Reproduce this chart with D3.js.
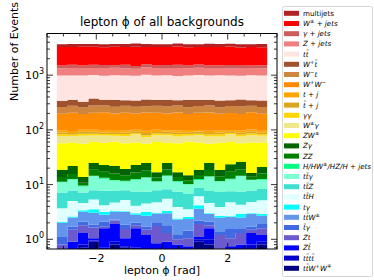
<!DOCTYPE html>
<html>
<head>
<meta charset="utf-8">
<script src="https://cdn.jsdelivr.net/npm/d3@7"></script>
<style>
  body{margin:0;background:#fff}
  svg{display:block;font-family:"DejaVu Sans",sans-serif}
</style>
</head>
<body>
<div id="chart"></div>
<script>
// 20 bins in lepton phi, -3.2 .. 3.2
const binEdges = [-3.2,-2.88,-2.56,-2.24,-1.92,-1.6,-1.28,-0.96,-0.64,-0.32,0,0.32,0.64,0.96,1.28,1.6,1.92,2.24,2.56,2.88,3.2]
const xTicks = [-2, 0, 2]
const yTicks = [1, 10, 100, 1000]

// per-process counts, legend order (top of the stack first)
const multijets  = [420,450,400,430,460,410,440,480,420,400,430,450,420,410,460,430,400,440,420,450]
const wjets      = [1760,1720,1800,1750,1690,1780,1740,1820,1700,1760,1730,1790,1750,1710,1770,1740,1800,1690,1760,1730]
const gammajets  = [170,190,160,200,180,150,210,170,190,160,180,200,170,190,160,180,210,170,150,190]
const zjets      = [350,370,360,340,380,360,350,330,370,360,350,380,340,360,370,350,340,380,360,350]
const ttbar      = [650,630,660,640,620,650,640,630,660,640,650,620,640,660,630,650,640,620,650,640]
const wptbar     = [75,82,70,95,78,88,72,80,90,76,84,70,92,80,74,86,78,90,72,84]
const wmt        = [65,70,60,72,68,64,70,66,62,70,68,72,64,66,70,62,68,72,66,64]
const ww         = [100,110,95,105,115,100,108,98,112,104,100,110,96,106,112,100,104,98,108,102]
const tj         = [8,7,9,8,6,9,8,7,8,9,7,8,9,7,8,8,6,9,8,7]
const tbarj      = [7,6,7,8,6,7,6,7,8,6,7,6,7,8,6,7,6,7,8,6]
const gammagamma = [6,5,7,6,5,6,7,5,6,6,5,7,6,5,6,7,5,6,6,5]
const wgamma     = [20,18,22,19,21,17,20,23,18,20,22,19,17,21,20,18,23,19,21,20]
const zw         = [38.6,37.1,42.2,35.2,35.3,39.1,37.8,36.3,31.2,43.1,33.2,40.1,46.1,40.6,31.2,39.6,36.3,31.1,42.7,37.1]
const zgamma     = [4.6,6.3,3.0,6.0,5.5,6.0,4.5,6.0,6.5,3.3,6.0,3.2,2.8,3.5,6.3,4.2,6.5,6.8,2.4,5.0]
const zz         = [2.5,3.0,1.2,4.2,3.9,3.8,3.0,4.0,4.7,2.0,4.2,2.1,1.8,2.2,4.3,2.6,4.3,4.6,1.6,3.3]
const higgs      = [0.3,0.2,0.4,0.3,0.5,0.2,0.3,0.4,0.2,0.3,0.4,0.3,0.2,0.5,0.3,0.2,0.4,0.3,0.2,0.3]
const ttgamma    = [3.8,4.6,2.0,6.4,5.0,4.2,3.6,4.8,6.0,3.4,6.0,3.9,3.2,3.5,6.3,4.1,4.9,6.7,4.4,4.0]
const ttz        = [3.5,2.8,2.6,2.5,3.6,3.0,2.6,3.4,2.9,3.1,2.7,3.5,3.3,2.6,3.0,3.4,2.8,3.2,2.9,3.1]
const tth        = [1.6,2.4,1.2,1.8,1.0,1.4,2.0,1.1,1.3,1.7,2.2,1.5,1.0,1.9,1.6,1.2,2.1,1.4,1.8,2.3]
const tgamma     = [0.1,0.1,0.2,0.5,0.4,0.1,0.1,0.2,0.5,0.1,0.3,0.1,0.2,0.6,0.1,0.2,0.1,0.4,0.1,0.2]
const ttw        = [0.9,0.8,1.1,1.2,0.7,0.9,1.3,0.8,1.0,0.9,1.2,1.1,0.9,1.4,0.8,1.1,1.0,0.9,1.2,0.8]
const tbargamma  = [0.3,0.2,0.3,0.2,0.4,0.1,0.3,0.2,0.2,0.3,0.5,0.2,0.4,0.3,0.3,0.2,0.5,0.3,0.2,0.3]
const zt         = [0.2,0.6,0.5,0.6,0.1,0.3,0.5,0.2,0.3,0.9,0.4,0.2,0.3,0.8,0.2,0.6,0.3,0.5,0.2,0.4]
const ztbar      = [0.2,0.3,0.5,0.1,0.9,1.0,0.3,0.9,0.8,0.2,0.4,0.3,0.2,0.1,0.6,0.2,0.3,0.2,0.5,0.3]
const tttt       = [0.1,0.2,0.1,0.05,0.2,0.1,0.05,0.3,0.1,0.05,0.2,0.1,0.05,0.1,0.2,0.1,0.05,0.1,0.2,0.1]
const ttww       = [0.3,0.4,0.7,0.9,0.5,0.8,0.7,0.4,0.3,0.6,0.3,0.4,0.5,0.9,0.8,0.3,0.4,0.5,0.6,0.8]

const series = [multijets,wjets,gammajets,zjets,ttbar,wptbar,wmt,ww,tj,tbarj,gammagamma,wgamma,zw,
  zgamma,zz,higgs,ttgamma,ttz,tth,tgamma,ttw,tbargamma,zt,ztbar,tttt,ttww]

const labels = ["multijets","W^{±} + jets","γ + jets","Z + jets","tt\u0304","W^{+}t\u0304","W^{−}t","W^{+}W^{−}",
  "t + j","t\u0304 + j","γγ","W^{±}γ","ZW^{±}","Zγ","ZZ","H/HW^{±}/HZ/H + jets","tt\u0304γ","tt\u0304Z","tt\u0304H",
  "tγ","tt\u0304W^{±}","t\u0304γ","Zt","Zt\u0304","tt\u0304tt\u0304","tt\u0304W^{+}W^{∓}"]

const colors = ["#b22222","#ff0000","#cd5c5c","#f08080","#ffe4e1","#a0522d","#cd853f","#ff8c00","#ffa500",
  "#daa520","#ffd700","#f0e68c","#ffff00","#006400","#008000","#00ff7f","#7fffd4","#40e0d0","#e0ffff",
  "#00ffff","#6495ed","#4169e1","#6a5acd","#0000ff","#0000cd","#000080"]

const W = 374, H = 280
const plot = {left:47, right:277, top:33.5, bottom:249}

const svg = d3.select('#chart').append('svg').attr('width',W).attr('height',H)

const x = d3.scaleLinear().domain([-3.5,3.5]).range([plot.left,plot.right])
const y = d3.scaleLog().domain([0.665,5780]).range([plot.bottom,plot.top]).clamp(true)

svg.append('clipPath').attr('id','clip').append('rect')
  .attr('x',plot.left).attr('y',plot.top)
  .attr('width',plot.right-plot.left).attr('height',plot.bottom-plot.top)

// stack from the bottom (last series) upward
let cum = binEdges.slice(0,-1).map(()=>0)
const layers = []
for (let k = series.length-1; k >= 0; k--) {
  const lo = cum.slice()
  const hi = cum.map((c,i)=>c+series[k][i])
  layers.push({k, lo, hi})
  cum = hi
}

const area = d3.area()
  .curve(d3.curveStepAfter)
  .x(d=>x(d.e))
  .y0(d=>y(Math.max(d.lo,1e-3)))
  .y1(d=>y(d.hi))

const g = svg.append('g').attr('clip-path','url(#clip)')
layers.forEach(l=>{
  const pts = binEdges.map((e,i)=>{
    const j = Math.min(i, l.lo.length-1)
    return {e, lo:l.lo[j], hi:l.hi[j]}
  })
  g.append('path').attr('d',area(pts)).attr('fill',colors[l.k])
})

// frame
svg.append('rect').attr('x',plot.left).attr('y',plot.top)
  .attr('width',plot.right-plot.left).attr('height',plot.bottom-plot.top)
  .attr('fill','none').attr('stroke','#000').attr('stroke-width',1)

// ticks, all pointing inwards
const tk = svg.append('g').attr('stroke','#000').attr('stroke-width',0.8)
const xMinor = d3.range(-3.5,3.51,0.5).filter(v=>!xTicks.includes(v))
xTicks.forEach(v=>{
  tk.append('line').attr('x1',x(v)).attr('x2',x(v)).attr('y1',plot.bottom).attr('y2',plot.bottom-6)
  tk.append('line').attr('x1',x(v)).attr('x2',x(v)).attr('y1',plot.top).attr('y2',plot.top+6)
})
xMinor.forEach(v=>{
  tk.append('line').attr('x1',x(v)).attr('x2',x(v)).attr('y1',plot.bottom).attr('y2',plot.bottom-3)
  tk.append('line').attr('x1',x(v)).attr('x2',x(v)).attr('y1',plot.top).attr('y2',plot.top+3)
})
const yMinor = []
;[0.1,1,10,100,1000].forEach(d=>{ for (let m=2;m<10;m++) yMinor.push(d*m) })
yTicks.forEach(v=>{
  tk.append('line').attr('x1',plot.left).attr('x2',plot.left+6).attr('y1',y(v)).attr('y2',y(v))
  tk.append('line').attr('x1',plot.right).attr('x2',plot.right-6).attr('y1',y(v)).attr('y2',y(v))
})
yMinor.filter(v=>v>0.665 && v<5780).forEach(v=>{
  tk.append('line').attr('x1',plot.left).attr('x2',plot.left+3).attr('y1',y(v)).attr('y2',y(v))
  tk.append('line').attr('x1',plot.right).attr('x2',plot.right-3).attr('y1',y(v)).attr('y2',y(v))
})

// tick labels
xTicks.forEach(v=>{
  svg.append('text').attr('x',x(v)).attr('y',plot.bottom+13).attr('text-anchor','middle')
    .attr('font-size',11).text(v<0 ? '\u2212'+Math.abs(v) : v)
})
yTicks.forEach(v=>{
  const t = svg.append('text').attr('x',plot.left-3).attr('y',y(v)+4).attr('text-anchor','end').attr('font-size',11)
  t.append('tspan').text('10')
  t.append('tspan').attr('font-size',8).attr('dy',-5).text(Math.round(Math.log10(v)))
})

// titles
svg.append('text').attr('x',(plot.left+plot.right)/2).attr('y',26).attr('text-anchor','middle')
  .attr('font-size',12).text('lepton \u03d5 of all backgrounds')
svg.append('text').attr('x',(plot.left+plot.right)/2).attr('y',274).attr('text-anchor','middle')
  .attr('font-size',11).text('lepton \u03d5 [rad]')
svg.append('text').attr('transform','translate(18,2) rotate(-90)').attr('text-anchor','end')
  .attr('font-size',11).text('Number of Events')

// legend
const lg = svg.append('g')
lg.append('rect').attr('x',282.5).attr('y',6.5).attr('width',90).attr('height',270).attr('rx',2)
  .attr('fill','#fff').attr('stroke','#d6d6d6').attr('stroke-width',1)
labels.forEach((lab,i)=>{
  const cy = 13.3 + i*10.2
  lg.append('rect').attr('x',284).attr('y',cy-2.5).attr('width',15).attr('height',5).attr('fill',colors[i])
  const t = lg.append('text').attr('x',303).attr('y',cy+2.4).attr('font-size',7.1)
    .attr('font-style', i===0 ? 'normal' : 'italic')
  let up = false
  lab.split(/(\^\{[^}]*\})/).filter(s=>s.length).forEach(s=>{
    if (s.startsWith('^{')) {
      t.append('tspan').attr('font-size',5.2).attr('dy',-2.7).text(s.slice(2,-1))
      up = true
    } else {
      t.append('tspan').attr('dy', up ? 2.7 : 0).text(s)
      up = false
    }
  })
})
</script>
</body>
</html>
